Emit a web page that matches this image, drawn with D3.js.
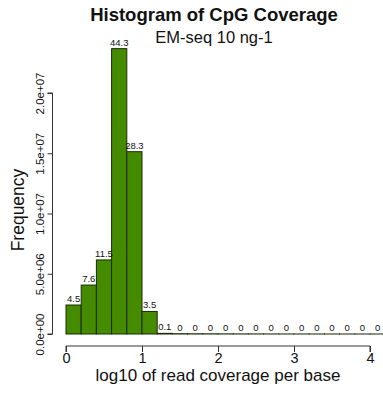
<!DOCTYPE html>
<html>
<head>
<meta charset="utf-8">
<script src="https://cdn.jsdelivr.net/npm/d3@7"></script>
<style>
  html, body { margin: 0; padding: 0; background: #fff; }
  svg { display: block; font-family: "Liberation Sans", Arial, Helvetica, sans-serif; }
</style>
</head>
<body>
<svg id="chart" width="383" height="396"></svg>
<script>
// Histogram bins of log10 read coverage (bin width 0.2)
const binStarts = [0.0, 0.2, 0.4, 0.6, 0.8, 1.0, 1.2, 1.4, 1.6, 1.8, 2.0,
                   2.2, 2.4, 2.6, 2.8, 3.0, 3.2, 3.4, 3.6, 3.8, 4.0];
const binWidth = 0.2;
// CpG counts per bin
const counts = [2405000, 4062000, 6147000, 23680000, 15130000, 1871000, 53000,
                24000, 19000, 15000, 11000, 8000, 6000, 4500, 3500, 2500,
                2000, 1500, 1000, 800, 600];
const xTicks = [0, 1, 2, 3, 4];
const yTicks = [0, 5e6, 1e7, 1.5e7, 2e7];
const yTickLabels = ["0.0e+00", "5.0e+06", "1.0e+07", "1.5e+07", "2.0e+07"];

const title = "Histogram of CpG Coverage";
const subtitle = "EM-seq 10 ng-1";
const xTitle = "log10 of read coverage per base";
const yTitle = "Frequency";

const svg = d3.select("#chart");
const total = d3.sum(counts);

const x = d3.scaleLinear().domain([0, 4]).range([66, 370]);
const y = d3.scaleLinear().domain([0, 2e7]).range([334, 93]);

// Bars
svg.append("g").selectAll("rect")
  .data(binStarts)
  .join("rect")
  .attr("x", (d) => x(d))
  .attr("width", (d) => x(d + binWidth) - x(d))
  .attr("y", (d, i) => y(counts[i]))
  .attr("height", (d, i) => y(0) - y(counts[i]))
  .attr("fill", "#458B00")
  .attr("stroke", "#1a2a08")
  .attr("stroke-width", 1);

// Percentage labels above each bar
const pctFmt = (c) => {
  const p = Math.round(c / total * 1000) / 10;
  return p === 0 ? "0" : d3.format(".1f")(p);
};
svg.append("g").selectAll("text")
  .data(binStarts)
  .join("text")
  .attr("x", (d) => x(d + binWidth / 2))
  .attr("y", (d, i) => y(counts[i]) - 3)
  .attr("text-anchor", "middle")
  .attr("font-size", 9.5)
  .attr("fill", "#111")
  .text((d, i) => pctFmt(counts[i]));

// X axis (offset below the plot)
const xAxis = d3.axisBottom(x).tickValues(xTicks).tickSize(6).tickPadding(1)
  .tickFormat(d3.format("d"));
const gx = svg.append("g").attr("transform", "translate(0,346)").call(xAxis);
gx.select(".domain").attr("d", `M${x(0)},6V0H${x(4)}V6`).attr("stroke", "#333");
gx.selectAll(".tick line").attr("stroke", "#333");
gx.selectAll(".tick text").attr("font-size", 14.5).attr("fill", "#111")
  .attr("font-family", "Liberation Sans, Arial, sans-serif");

// Y axis with rotated labels
const yAxis = d3.axisLeft(y).tickValues(yTicks).tickSize(5)
  .tickFormat((d, i) => yTickLabels[i]);
const gy = svg.append("g").attr("transform", "translate(52.5,0)").call(yAxis);
gy.select(".domain").attr("d", `M-5,${y(0)}H0V${y(2e7)}H-5`).attr("stroke", "#333");
gy.selectAll(".tick line").attr("stroke", "#333");
gy.selectAll(".tick text")
  .attr("font-size", 11.5).attr("fill", "#111")
  .attr("font-family", "Liberation Sans, Arial, sans-serif")
  .attr("text-anchor", "middle")
  .attr("dy", null)
  .attr("x", null)
  .attr("transform", "translate(-9,0) rotate(-90)");

// Titles
svg.append("text")
  .attr("x", 214).attr("y", 21)
  .attr("text-anchor", "middle")
  .attr("font-size", 18.5).attr("font-weight", "bold").attr("fill", "#111")
  .text(title);
svg.append("text")
  .attr("x", 214).attr("y", 43)
  .attr("text-anchor", "middle")
  .attr("font-size", 16.5).attr("fill", "#111")
  .text(subtitle);
svg.append("text")
  .attr("x", 218).attr("y", 381)
  .attr("text-anchor", "middle")
  .attr("font-size", 17).attr("fill", "#111")
  .text(xTitle);
svg.append("text")
  .attr("transform", "translate(24,210) rotate(-90)")
  .attr("text-anchor", "middle")
  .attr("font-size", 17.5).attr("fill", "#111")
  .text(yTitle);
</script>
</body>
</html>
